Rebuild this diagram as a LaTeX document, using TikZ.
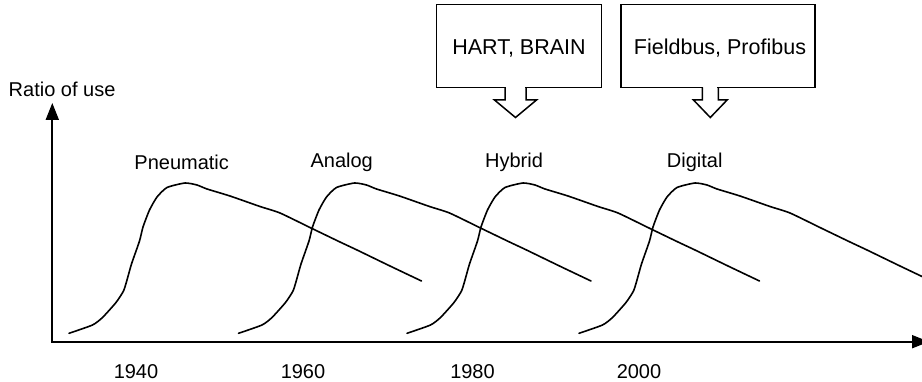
\documentclass[tikz,border=0pt]{standalone}
\usepackage{fontspec}
\setmainfont{Liberation Sans}
\usetikzlibrary{arrows.meta}
\begin{document}
\begin{tikzpicture}[x=1pt,y=-1pt,
  lbl/.style={inner sep=0pt, anchor=base, font=\fontsize{20}{24}\selectfont},
  boxlbl/.style={inner sep=0pt, anchor=base, font=\fontsize{21.5}{26}\selectfont},
  tagbox/.style={draw, line width=1.5pt, inner sep=0pt},
  curve/.style={line width=1.6pt, line join=round, line cap=round},
  axis/.style={line width=1.8pt, {Triangle[length=17pt,width=13pt]}-{Triangle[length=17pt,width=13pt]}},
  hollow/.style={line width=1.5pt, line join=miter}]
\useasboundingbox (0,0) rectangle (922,382);

% axes
\coordinate (ytop) at (52.3,103);
\coordinate (xend) at (929,341.7);
\draw[axis] (ytop) |- (xend);

% curves
\begin{scope}
\clip (0,0) rectangle (922,382);
\foreach \s in {0,169.5,338,510}{
  \draw[curve, xshift=\s pt] plot[smooth, tension=0.35] coordinates {
    (69,333.3) (92.5,325) (102.5,317.5) (116,302.5) (123.5,291) (127,280)
    (131.5,264) (139.5,241) (143,227) (149.5,210) (157,197) (167,187.5)
    (185,183) (197,185) (207,189) (230,196) (260,206.5) (280,213)
    (312,228.5) (340,242) (357,250) (390,266) (421.5,281)};
}
\end{scope}

% labels
\node[lbl, anchor=base west] (ratio) at (8.5,97) {Ratio of use};
\node[lbl] (pneu) at (181.7,169.5) {Pneumatic};
\node[lbl] (analog) at (341.7,167.5) {Analog};
\node[lbl] (hybrid) at (514,167.5) {Hybrid};
\node[lbl] (digital) at (694.7,167.5) {Digital};
\node[lbl] (y1940) at (136,378) {1940};
\node[lbl] (y1960) at (303,378) {1960};
\node[lbl] (y1980) at (472.5,378) {1980};
\node[lbl] (y2000) at (639,378) {2000};

% HART box
\node[tagbox, minimum width=165pt, minimum height=82.8pt] (hartbox) at (519.2,45.9) {};
\node[boxlbl] (hart) at (519,55) {HART, BRAIN};
\fill[white] (506,85.5) rectangle (525,89);
\draw[hollow] (505,87.3) -- (505,100) -- (494.5,100) -- (515.5,117.5)
  -- (536.5,100) -- (526,100) -- (526,87.3);

% Fieldbus box
\node[tagbox, minimum width=194pt, minimum height=82.8pt] (fieldbox) at (718,45.9) {};
\node[boxlbl] (field) at (720,55) {Fieldbus, Profibus};
\fill[white] (703.3,85.5) rectangle (717.3,89);
\draw[hollow] (702.3,87.3) -- (702.3,100) -- (693.5,100) -- (710.3,117.5)
  -- (727.1,100) -- (718.3,100) -- (718.3,87.3);
\end{tikzpicture}
\end{document}
